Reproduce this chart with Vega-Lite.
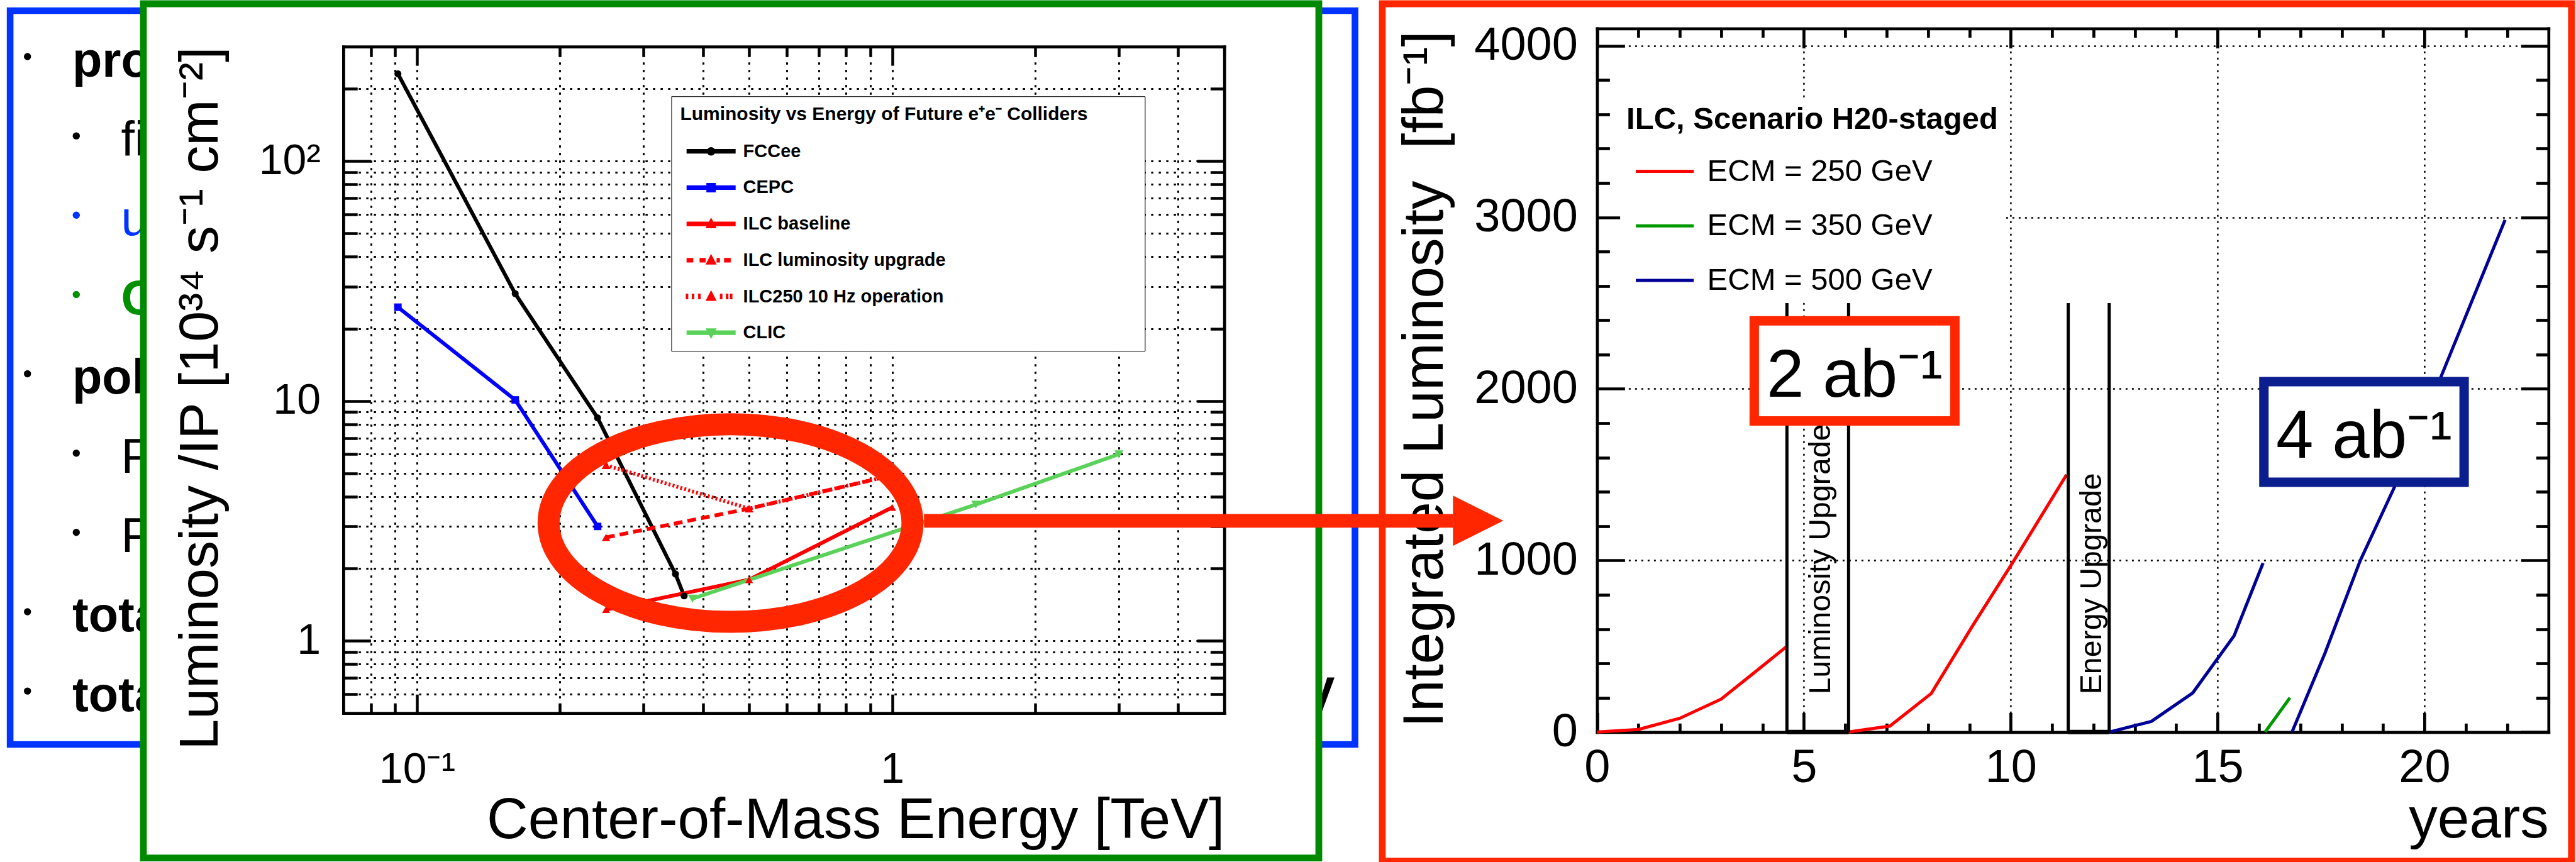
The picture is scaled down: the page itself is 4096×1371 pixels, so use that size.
{
  "$schema": "https://vega.github.io/schema/vega-lite/v6.json",
  "background": "white",
  "padding": {"left": 10.1, "top": 0, "right": 0, "bottom": 0},
  "bounds": "flush",
  "spacing": 100.9,
  "resolve": {
    "scale": {"color": "independent", "shape": "independent", "size": "independent", "stroke": "independent", "strokeDash": "independent"},
    "legend": {"color": "independent", "shape": "independent", "size": "independent", "stroke": "independent", "strokeDash": "independent"}
  },
  "config": {
    "font": "Liberation Sans",
    "view": {"stroke": null},
    "axis": {"labelFont": "Liberation Sans", "titleFont": "Liberation Sans", "labelColor": "#000000", "titleColor": "#000000", "tickColor": "#000000", "domainColor": "#000000", "gridColor": "#000000", "labelFlush": false, "labelOverlap": false, "titleFontWeight": "normal", "grid": false, "titleLimit": 3000},
    "legend": {"labelFont": "Liberation Sans", "titleFont": "Liberation Sans", "labelColor": "#000000", "titleColor": "#000000", "labelLimit": 3000, "titleLimit": 3000},
    "text": {"font": "Liberation Sans", "color": "#000000"}
  },
  "datasets": {
    "slide": [
      {"line": 1, "indent": 0, "text": "pro", "tone": "heading"},
      {"line": 2, "indent": 1, "text": "fi", "tone": "item"},
      {"line": 3, "indent": 1, "text": "u", "tone": "blue"},
      {"line": 4, "indent": 1, "text": "C", "tone": "green"},
      {"line": 5, "indent": 0, "text": "pol", "tone": "heading"},
      {"line": 6, "indent": 1, "text": "P", "tone": "item"},
      {"line": 7, "indent": 1, "text": "P", "tone": "item"},
      {"line": 8, "indent": 0, "text": "tota", "tone": "heading"},
      {"line": 9, "indent": 0, "text": "tota", "tone": "heading"}
    ],
    "lumi_energy": [
      {"series": "FCCee", "E": 0.0912, "L": 231},
      {"series": "FCCee", "E": 0.161, "L": 28},
      {"series": "FCCee", "E": 0.24, "L": 8.5},
      {"series": "FCCee", "E": 0.35, "L": 1.9},
      {"series": "FCCee", "E": 0.365, "L": 1.54},
      {"series": "CEPC", "E": 0.0912, "L": 24.6},
      {"series": "CEPC", "E": 0.161, "L": 10.1},
      {"series": "CEPC", "E": 0.24, "L": 3.0},
      {"series": "ILC baseline", "E": 0.25, "L": 1.35},
      {"series": "ILC baseline", "E": 0.5, "L": 1.8},
      {"series": "ILC baseline", "E": 1.0, "L": 3.6},
      {"series": "ILC luminosity upgrade", "E": 0.25, "L": 2.7},
      {"series": "ILC luminosity upgrade", "E": 0.5, "L": 3.56},
      {"series": "ILC luminosity upgrade", "E": 1.0, "L": 4.9},
      {"series": "ILC250 10 Hz operation", "E": 0.25, "L": 5.4},
      {"series": "ILC250 10 Hz operation", "E": 0.5, "L": 3.56},
      {"series": "ILC250 10 Hz operation", "E": 1.0, "L": 4.9},
      {"series": "CLIC", "E": 0.38, "L": 1.5},
      {"series": "CLIC", "E": 1.5, "L": 3.7},
      {"series": "CLIC", "E": 3.0, "L": 6.0}
    ],
    "integrated": [
      {"ecm": "ECM = 250 GeV", "run": "250a", "year": 0, "lumi": 0},
      {"ecm": "ECM = 250 GeV", "run": "250a", "year": 1, "lumi": 15},
      {"ecm": "ECM = 250 GeV", "run": "250a", "year": 2, "lumi": 80},
      {"ecm": "ECM = 250 GeV", "run": "250a", "year": 3, "lumi": 192},
      {"ecm": "ECM = 250 GeV", "run": "250a", "year": 4, "lumi": 385},
      {"ecm": "ECM = 250 GeV", "run": "250a", "year": 4.59, "lumi": 500},
      {"ecm": "ECM = 250 GeV", "run": "250b", "year": 6.08, "lumi": 0},
      {"ecm": "ECM = 250 GeV", "run": "250b", "year": 7.08, "lumi": 35},
      {"ecm": "ECM = 250 GeV", "run": "250b", "year": 8.08, "lumi": 225},
      {"ecm": "ECM = 250 GeV", "run": "250b", "year": 9.08, "lumi": 620},
      {"ecm": "ECM = 250 GeV", "run": "250b", "year": 10.08, "lumi": 1000},
      {"ecm": "ECM = 250 GeV", "run": "250b", "year": 11.35, "lumi": 1500},
      {"ecm": "ECM = 500 GeV", "run": "500a", "year": 12.38, "lumi": 0},
      {"ecm": "ECM = 500 GeV", "run": "500a", "year": 13.4, "lumi": 62},
      {"ecm": "ECM = 500 GeV", "run": "500a", "year": 14.4, "lumi": 228},
      {"ecm": "ECM = 500 GeV", "run": "500a", "year": 15.4, "lumi": 561},
      {"ecm": "ECM = 500 GeV", "run": "500a", "year": 16.1, "lumi": 985},
      {"ecm": "ECM = 350 GeV", "run": "350", "year": 16.15, "lumi": 0},
      {"ecm": "ECM = 350 GeV", "run": "350", "year": 16.75, "lumi": 200},
      {"ecm": "ECM = 500 GeV", "run": "500b", "year": 16.8, "lumi": 0},
      {"ecm": "ECM = 500 GeV", "run": "500b", "year": 17.6, "lumi": 462},
      {"ecm": "ECM = 500 GeV", "run": "500b", "year": 18.45, "lumi": 1000},
      {"ecm": "ECM = 500 GeV", "run": "500b", "year": 19.3, "lumi": 1440},
      {"ecm": "ECM = 500 GeV", "run": "500b", "year": 20.4, "lumi": 2070},
      {"ecm": "ECM = 500 GeV", "run": "500b", "year": 21.95, "lumi": 2985}
    ],
    "upgrades": [
      {"phase": "Luminosity Upgrade", "start": 4.59, "end": 6.08, "mid": 5.335},
      {"phase": "Energy Upgrade", "start": 11.39, "end": 12.38, "mid": 11.885}
    ],
    "ab_boxes": [
      {"label": "2 ab⁻¹", "tone": "250", "from": 3.8, "to": 8.65, "low": 1813, "high": 2397, "label_year": 6.225, "label_lumi": 1954},
      {"label": "4 ab⁻¹", "tone": "500", "from": 16.12, "to": 20.96, "low": 1456, "high": 2042, "label_year": 18.54, "label_lumi": 1599}
    ],
    "arrow": [
      {"from_year": -16.27, "to_year": -3.48, "head_year": -2.875, "lumi": 1231}
    ]
  },
  "hconcat": [
    {
      "width": 110.9,
      "height": 1358.6,
      "view": {"stroke": null, "fill": null},
      "layer": [
        {
          "data": {"values": [{"frame": "slide"}]},
          "mark": {"type": "rect", "fill": "transparent", "stroke": "#0033FF", "strokeWidth": 10.6},
          "encoding": {
            "x": {"datum": 0, "type": "quantitative", "scale": {"domain": [0, 1], "range": [0, 2138.4]}, "axis": null},
            "x2": {"datum": 1},
            "y": {"datum": 0, "type": "quantitative", "scale": {"domain": [0, 1], "range": [11.0, 1178.0]}, "axis": null},
            "y2": {"datum": 1}
          }
        },
        {
          "data": {"name": "slide"},
          "mark": {"type": "point", "shape": "circle", "filled": true, "opacity": 1, "size": 130, "strokeWidth": 0, "xOffset": -71.2, "yOffset": -31.5},
          "encoding": {
            "x": {"field": "indent", "type": "quantitative", "scale": {"domain": [0, 1], "range": [98.8, 176.4]}, "axis": null},
            "y": {"field": "line", "type": "quantitative", "scale": {"domain": [1, 9], "range": [115.5, 1124.6]}, "axis": null},
            "color": {"field": "tone", "type": "nominal", "scale": {"domain": ["heading", "item", "blue", "green"], "range": ["#000000", "#000000", "#0033FF", "#009000"]}, "legend": null}
          }
        },
        {
          "data": {"name": "slide"},
          "transform": [{"filter": "datum.tone === 'item' || datum.tone === 'blue'"}],
          "mark": {"type": "text", "fontSize": 77.6, "align": "left", "baseline": "alphabetic", "fontWeight": "normal"},
          "encoding": {
            "x": {"field": "indent", "type": "quantitative", "scale": {"domain": [0, 1], "range": [98.8, 176.4]}, "axis": null},
            "y": {"field": "line", "type": "quantitative", "scale": {"domain": [1, 9], "range": [115.5, 1124.6]}, "axis": null},
            "text": {"field": "text"},
            "color": {"field": "tone", "type": "nominal", "scale": {"domain": ["heading", "item", "blue", "green"], "range": ["#000000", "#000000", "#0033FF", "#009000"]}, "legend": null}
          }
        },
        {
          "data": {"name": "slide"},
          "transform": [{"filter": "datum.tone === 'heading' || datum.tone === 'green'"}],
          "mark": {"type": "text", "fontSize": 77.6, "align": "left", "baseline": "alphabetic", "fontWeight": "bold"},
          "encoding": {
            "x": {"field": "indent", "type": "quantitative", "scale": {"domain": [0, 1], "range": [98.8, 176.4]}, "axis": null},
            "y": {"field": "line", "type": "quantitative", "scale": {"domain": [1, 9], "range": [115.5, 1124.6]}, "axis": null},
            "text": {"field": "text"},
            "color": {"field": "tone", "type": "nominal", "scale": {"domain": ["heading", "item", "blue", "green"], "range": ["#000000", "#000000", "#0033FF", "#009000"]}, "legend": null}
          }
        },
        {
          "data": {"values": [{"line": 9, "text": "V"}]},
          "mark": {"type": "text", "fontSize": 77.6, "align": "right", "baseline": "alphabetic", "fontWeight": "bold", "dx": -32.1, "color": "#000000"},
          "encoding": {
            "x": {"datum": 1, "type": "quantitative", "scale": {"domain": [0, 1], "range": [0, 2138.4]}, "axis": null},
            "y": {"field": "line", "type": "quantitative", "scale": {"domain": [1, 9], "range": [115.5, 1124.6]}, "axis": null},
            "text": {"field": "text"}
          }
        }
      ],
      "resolve": {"scale": {"x": "independent", "y": "independent"}}
    },
    {
      "width": 1869.0,
      "height": 1358.6,
      "view": {"stroke": "#008A00", "strokeWidth": 10.8, "fill": "white"},
      "layer": [
        {
          "data": {"name": "lumi_energy"},
          "mark": {"type": "line", "strokeWidth": 6},
          "encoding": {
            "x": {"field": "E", "type": "quantitative", "scale": {"type": "log", "domain": [0.07, 5], "range": [317.9, 1718.7], "nice": false},
              "axis": {"orient": "bottom", "offset": -230.4, "values": [0.1, 1], "labelExpr": "datum.value == 1 ? '1' : '10⁻¹'", "ticks": false, "domain": false, "grid": false, "labelFontSize": 68, "labelPadding": 56, "title": "Center-of-Mass Energy [TeV]", "titleFontSize": 91, "titleX": 1718.7, "titleY": 198, "titleAlign": "right", "titleBaseline": "alphabetic", "titleAngle": 0}},
            "y": {"field": "L", "type": "quantitative", "scale": {"type": "log", "domain": [0.5, 300], "range": [1128.2, 68.1], "nice": false},
              "axis": {"orient": "left", "offset": -317.9, "values": [1, 10, 100], "labelExpr": "datum.value == 100 ? '10²' : datum.value == 10 ? '10' : '1'", "ticks": false, "domain": false, "grid": false, "labelFontSize": 68, "labelPadding": 36.4, "title": "Luminosity /IP [10³⁴ s⁻¹ cm⁻²]", "titleFontSize": 88, "titleX": -200.5, "titleY": 68.1, "titleAlign": "right", "titleBaseline": "alphabetic", "titleAngle": 270}},
            "color": {"field": "series", "type": "nominal", "scale": {"domain": ["FCCee", "CEPC", "ILC baseline", "ILC luminosity upgrade", "ILC250 10 Hz operation", "CLIC"], "range": ["#000000", "#0000FF", "#FF0000", "#FF0000", "#FF0000", "#5AD25A"]}, "legend": null},
            "strokeDash": {"field": "series", "type": "nominal", "scale": {"domain": ["FCCee", "CEPC", "ILC baseline", "ILC luminosity upgrade", "ILC250 10 Hz operation", "CLIC"], "range": [[1, 0], [1, 0], [1, 0], [14, 8], [3, 3.5], [1, 0]]}, "legend": null}
          }
        },
        {
          "data": {"name": "lumi_energy"},
          "mark": {"type": "point", "filled": true, "opacity": 1, "strokeWidth": 0},
          "encoding": {
            "x": {"field": "E", "type": "quantitative", "scale": {"type": "log", "domain": [0.07, 5], "range": [317.9, 1718.7], "nice": false},
              "axis": {"orient": "top", "offset": -1128.2, "values": [0.08, 0.09, 0.1, 0.2, 0.3, 0.4, 0.5, 0.6, 0.7, 0.8, 0.9, 1, 2, 3, 4], "labels": false, "ticks": true, "tickSize": {"condition": {"test": "datum.value == 0.1 || datum.value == 1", "value": 30}, "value": 16}, "tickWidth": 4.5, "domain": true, "domainWidth": 4.8, "domainCap": "square", "grid": true, "gridDash": [3.5, 8.5], "gridWidth": 3, "title": null}},
            "y": {"field": "L", "type": "quantitative", "scale": {"type": "log", "domain": [0.5, 300], "range": [1128.2, 68.1], "nice": false},
              "axis": {"orient": "right", "offset": -1551.1, "values": [0.6, 0.7, 0.8, 0.9, 1, 2, 3, 4, 5, 6, 7, 8, 9, 10, 20, 30, 40, 50, 60, 70, 80, 90, 100, 200], "labels": false, "ticks": true, "tickSize": {"condition": {"test": "datum.value == 1 || datum.value == 10 || datum.value == 100", "value": 43.5}, "value": 22.3}, "tickWidth": 4.5, "domain": true, "domainWidth": 4.8, "domainCap": "square", "grid": false, "title": null}},
            "color": {"field": "series", "type": "nominal", "scale": {"domain": ["FCCee", "CEPC", "ILC baseline", "ILC luminosity upgrade", "ILC250 10 Hz operation", "CLIC"], "range": ["#000000", "#0000FF", "#FF0000", "#FF0000", "#FF0000", "#5AD25A"]}, "legend": null},
            "shape": {"field": "series", "type": "nominal", "scale": {"domain": ["FCCee", "CEPC", "ILC baseline", "ILC luminosity upgrade", "ILC250 10 Hz operation", "CLIC"], "range": ["circle", "square", "triangle-up", "triangle-up", "triangle-up", "triangle-down"]}, "legend": null},
            "size": {"field": "series", "type": "nominal", "scale": {"domain": ["FCCee", "CEPC", "ILC baseline", "ILC luminosity upgrade", "ILC250 10 Hz operation", "CLIC"], "range": [125, 210, 230, 230, 230, 230]}, "legend": null}
          }
        },
        {
          "data": {"values": [{"highlight": "ILC"}]},
          "mark": {"type": "point", "shape": "M-1,0C-1,-0.3001,-0.5523,-0.5434,0,-0.5434C0.5523,-0.5434,1,-0.3001,1,0C1,0.3001,0.5523,0.5434,0,0.5434C-0.5523,0.5434,-1,0.3001,-1,0Z", "size": 334777, "filled": false, "stroke": "#FF2600", "strokeWidth": 35, "opacity": 1},
          "encoding": {
            "x": {"datum": 0.457, "type": "quantitative", "scale": {"type": "log", "domain": [0.07, 5], "range": [317.9, 1718.7], "nice": false},
              "axis": {"orient": "bottom", "offset": -1290.5, "values": [0.08, 0.09, 0.1, 0.2, 0.3, 0.4, 0.5, 0.6, 0.7, 0.8, 0.9, 1, 2, 3, 4], "labels": false, "ticks": true, "tickSize": {"condition": {"test": "datum.value == 0.1 || datum.value == 1", "value": 30}, "value": 16}, "tickWidth": 4.5, "domain": true, "domainWidth": 4.8, "domainCap": "square", "grid": false, "title": null}},
            "y": {"datum": 3.1, "type": "quantitative", "scale": {"type": "log", "domain": [0.5, 300], "range": [1128.2, 68.1], "nice": false},
              "axis": {"orient": "left", "offset": -1718.7, "values": [0.6, 0.7, 0.8, 0.9, 1, 2, 3, 4, 5, 6, 7, 8, 9, 10, 20, 30, 40, 50, 60, 70, 80, 90, 100, 200], "labels": false, "ticks": true, "tickSize": {"condition": {"test": "datum.value == 1 || datum.value == 10 || datum.value == 100", "value": 43.5}, "value": 22.3}, "tickWidth": 4.5, "domain": true, "domainWidth": 4.8, "domainCap": "square", "grid": true, "gridDash": [3.5, 8.5], "gridWidth": 3, "title": null}}
          }
        },
        {
          "data": {"name": "lumi_energy"},
          "transform": [{"filter": "false"}],
          "mark": {"type": "point", "filled": true, "opacity": 1, "strokeWidth": 0},
          "encoding": {
            "color": {"field": "series", "type": "nominal", "scale": {"domain": ["FCCee", "CEPC", "ILC baseline", "ILC luminosity upgrade", "ILC250 10 Hz operation", "CLIC"], "range": ["#000000", "#0000FF", "#FF0000", "#FF0000", "#FF0000", "#5AD25A"]},
              "legend": {"orient": "none", "legendX": 839.4, "legendY": 147.2, "title": "Luminosity vs Energy of Future e⁺e⁻ Colliders", "titleFontSize": 30, "titleFontWeight": "bold", "titlePadding": 29, "labelFontSize": 29, "labelFontWeight": "bold", "symbolSize": 400, "symbolStrokeWidth": 0, "symbolOffset": 34.8, "labelOffset": 36.4, "rowPadding": 27.7, "padding": 14, "strokeColor": "#000000", "fillColor": "white", "zindex": 1, "encode": {"legend": {"update": {"strokeWidth": {"value": 4.2}}}}}},
            "shape": {"field": "series", "type": "nominal", "scale": {"domain": ["FCCee", "CEPC", "ILC baseline", "ILC luminosity upgrade", "ILC250 10 Hz operation", "CLIC"], "range": [
              "M-3.9,-0.36H3.9V0.36H-3.9Z M0.67,0C0.67,0.37,0.37,0.67,0,0.67C-0.37,0.67,-0.67,0.37,-0.67,0C-0.67,-0.37,-0.37,-0.67,0,-0.67C0.37,-0.67,0.67,-0.37,0.67,0Z M67.5,0",
              "M-3.9,-0.36H3.9V0.36H-3.9Z M-0.75,-0.75H0.75V0.75H-0.75Z",
              "M-3.9,-0.36H3.9V0.36H-3.9Z M0,-1L0.88,0.7L-0.88,0.7Z",
              "M-3.9,-0.36H-2.84V0.36H-3.9Z M-1.83,-0.36H-0.87V0.36H-1.83Z M0.87,-0.36H1.4V0.36H0.87Z M2.06,-0.36H3.12V0.36H2.06Z M0,-1L0.88,0.7L-0.88,0.7Z",
              "M-4.03,-0.45H-3.63V0.45H-4.03Z M-3.07,-0.45H-2.67V0.45H-3.07Z M-2.06,-0.45H-1.66V0.45H-2.06Z M1.4,-0.45H1.8V0.45H1.4Z M2.35,-0.45H2.75V0.45H2.35Z M2.99,-0.45H3.39V0.45H2.99Z M0,-1L0.88,0.7L-0.88,0.7Z",
              "M-3.9,-0.36H3.9V0.36H-3.9Z M0,1L-0.88,-0.7L0.88,-0.7Z"
            ]},
              "legend": {"orient": "none", "legendX": 839.4, "legendY": 147.2, "title": "Luminosity vs Energy of Future e⁺e⁻ Colliders", "titleFontSize": 30, "titleFontWeight": "bold", "titlePadding": 29, "labelFontSize": 29, "labelFontWeight": "bold", "symbolSize": 400, "symbolStrokeWidth": 0, "symbolOffset": 34.8, "labelOffset": 36.4, "rowPadding": 27.7, "padding": 14, "strokeColor": "#000000", "fillColor": "white", "zindex": 1, "encode": {"legend": {"update": {"strokeWidth": {"value": 4.2}}}}}}
          }
        }
      ],
      "resolve": {
        "scale": {"color": "independent", "shape": "independent", "size": "independent", "strokeDash": "independent"},
        "axis": {"x": "independent", "y": "independent"},
        "legend": {"color": "independent", "shape": "independent", "size": "independent", "strokeDash": "independent"}
      }
    },
    {
      "width": 1890.9,
      "height": 1363.6,
      "view": {"stroke": "#FF2600", "strokeWidth": 10.8, "fill": "white"},
      "layer": [
        {
          "data": {"name": "integrated"},
          "mark": {"type": "line", "strokeWidth": 5},
          "encoding": {
            "x": {"field": "year", "type": "quantitative", "scale": {"domain": [0, 23], "range": [341.5, 1854.4], "nice": false, "zero": false},
              "axis": {"orient": "bottom", "offset": -205.3, "values": [0, 5, 10, 15, 20], "format": "d", "ticks": false, "domain": false, "grid": false, "labelFontSize": 74, "labelPadding": 21, "title": "years", "titleFontSize": 91, "titleX": 1854.4, "titleY": 167, "titleAlign": "right", "titleBaseline": "alphabetic", "titleAngle": 0}},
            "y": {"field": "lumi", "type": "quantitative", "scale": {"domain": [0, 4100], "range": [1158.3, 39.4], "nice": false, "zero": false},
              "axis": {"orient": "left", "offset": -341.5, "values": [0, 1000, 2000, 3000, 4000], "format": "d", "ticks": false, "domain": false, "grid": false, "labelFontSize": 74, "labelPadding": 31, "title": "Integrated Luminosity\u00a0 [fb⁻¹]", "titleFontSize": 91, "titleX": -245.8, "titleY": 42.6, "titleAlign": "right", "titleBaseline": "alphabetic", "titleAngle": 270}},
            "color": {"field": "ecm", "type": "nominal", "scale": {"domain": ["ECM = 250 GeV", "ECM = 350 GeV", "ECM = 500 GeV"], "range": ["#FF0000", "#009900", "#000099"]},
              "legend": {"orient": "none", "legendX": 378.2, "legendY": 149.5, "title": "ILC, Scenario H20-staged", "titleFontSize": 49, "titleFontWeight": "bold", "titlePadding": 32.5, "labelFontSize": 49, "symbolType": "M-2,0H2", "symbolSize": 2116, "symbolStrokeWidth": 5, "symbolOffset": 35.5, "labelOffset": 42, "rowPadding": 35.7, "padding": 10, "fillColor": "white", "zindex": 1}},
            "detail": {"field": "run"}
          }
        },
        {
          "data": {"name": "upgrades"},
          "mark": {"type": "rule", "strokeWidth": 5, "color": "#000000"},
          "encoding": {
            "x": {"field": "start", "type": "quantitative", "scale": {"domain": [0, 23], "range": [341.5, 1854.4], "nice": false, "zero": false}, "axis": null},
            "y": {"datum": 0, "type": "quantitative", "scale": {"domain": [0, 4100], "range": [1158.3, 39.4], "nice": false, "zero": false}, "axis": null},
            "y2": {"datum": 2500}
          }
        },
        {
          "data": {"name": "upgrades"},
          "mark": {"type": "rule", "strokeWidth": 5, "color": "#000000"},
          "encoding": {
            "x": {"field": "end", "type": "quantitative", "scale": {"domain": [0, 23], "range": [341.5, 1854.4], "nice": false, "zero": false}, "axis": null},
            "y": {"datum": 0, "type": "quantitative", "scale": {"domain": [0, 4100], "range": [1158.3, 39.4], "nice": false, "zero": false}, "axis": null},
            "y2": {"datum": 2500}
          }
        },
        {
          "data": {"name": "upgrades"},
          "mark": {"type": "rule", "strokeWidth": 7, "color": "#000000"},
          "encoding": {
            "x": {"field": "start", "type": "quantitative", "scale": {"domain": [0, 23], "range": [341.5, 1854.4], "nice": false, "zero": false}, "axis": null},
            "x2": {"field": "end"},
            "y": {"datum": 0, "type": "quantitative", "scale": {"domain": [0, 4100], "range": [1158.3, 39.4], "nice": false, "zero": false}, "axis": null}
          }
        },
        {
          "data": {"name": "upgrades"},
          "mark": {"type": "text", "angle": 270, "align": "left", "baseline": "alphabetic", "fontSize": 48.4, "xOffset": 19.5},
          "encoding": {
            "x": {"field": "mid", "type": "quantitative", "scale": {"domain": [0, 23], "range": [341.5, 1854.4], "nice": false, "zero": false}, "axis": null},
            "y": {"datum": 219, "type": "quantitative", "scale": {"domain": [0, 4100], "range": [1158.3, 39.4], "nice": false, "zero": false}, "axis": null},
            "text": {"field": "phase"}
          }
        },
        {
          "data": {"name": "ab_boxes"},
          "mark": {"type": "rect", "fill": "white", "strokeWidth": 15},
          "encoding": {
            "x": {"field": "from", "type": "quantitative", "scale": {"domain": [0, 23], "range": [341.5, 1854.4], "nice": false, "zero": false},
              "axis": {"orient": "top", "offset": -1158.3, "values": [0, 1, 2, 3, 4, 5, 6, 7, 8, 9, 10, 11, 12, 13, 14, 15, 16, 17, 18, 19, 20, 21, 22], "labels": false, "ticks": true, "tickSize": {"condition": {"test": "datum.value % 5 == 0", "value": 31}, "value": 14}, "tickWidth": 4.7, "domain": true, "domainWidth": 4.7, "domainCap": "square", "grid": true, "gridDash": [3, 7], "gridWidth": 2.5, "gridOpacity": {"condition": {"test": "datum.value % 5 == 0 && datum.value > 0", "value": 1}, "value": 0}, "title": null}},
            "x2": {"field": "to"},
            "y": {"field": "low", "type": "quantitative", "scale": {"domain": [0, 4100], "range": [1158.3, 39.4], "nice": false, "zero": false},
              "axis": {"orient": "right", "offset": -1549.4, "values": [0, 200, 400, 600, 800, 1000, 1200, 1400, 1600, 1800, 2000, 2200, 2400, 2600, 2800, 3000, 3200, 3400, 3600, 3800, 4000], "labels": false, "ticks": true, "tickSize": {"condition": {"test": "datum.value % 1000 == 0", "value": 44}, "value": 20}, "tickWidth": 4.7, "domain": true, "domainWidth": 4.7, "domainCap": "square", "grid": false, "title": null}},
            "y2": {"field": "high"},
            "stroke": {"field": "tone", "type": "nominal", "scale": {"domain": ["250", "500"], "range": ["#FF2600", "#0B1E8F"]}, "legend": null}
          }
        },
        {
          "data": {"name": "ab_boxes"},
          "mark": {"type": "text", "fontSize": 107, "align": "center", "baseline": "alphabetic"},
          "encoding": {
            "x": {"field": "label_year", "type": "quantitative", "scale": {"domain": [0, 23], "range": [341.5, 1854.4], "nice": false, "zero": false},
              "axis": {"orient": "bottom", "offset": -1324.2, "values": [0, 1, 2, 3, 4, 5, 6, 7, 8, 9, 10, 11, 12, 13, 14, 15, 16, 17, 18, 19, 20, 21, 22], "labels": false, "ticks": true, "tickSize": {"condition": {"test": "datum.value % 5 == 0", "value": 31}, "value": 14}, "tickWidth": 4.7, "domain": true, "domainWidth": 4.7, "domainCap": "square", "grid": false, "title": null}},
            "y": {"field": "label_lumi", "type": "quantitative", "scale": {"domain": [0, 4100], "range": [1158.3, 39.4], "nice": false, "zero": false},
              "axis": {"orient": "left", "offset": -1854.4, "values": [0, 200, 400, 600, 800, 1000, 1200, 1400, 1600, 1800, 2000, 2200, 2400, 2600, 2800, 3000, 3200, 3400, 3600, 3800, 4000], "labels": false, "ticks": true, "tickSize": {"condition": {"test": "datum.value % 1000 == 0", "value": 44}, "value": 20}, "tickWidth": 4.7, "domain": true, "domainWidth": 4.7, "domainCap": "square", "grid": true, "gridDash": [3, 7], "gridWidth": 2.5, "gridOpacity": {"condition": {"test": "datum.value % 1000 == 0 && datum.value > 0", "value": 1}, "value": 0}, "title": null}},
            "text": {"field": "label"}
          }
        },
        {
          "data": {"name": "arrow"},
          "mark": {"type": "rule", "strokeWidth": 21.7, "color": "#FF2600", "strokeCap": "butt"},
          "encoding": {
            "x": {"field": "from_year", "type": "quantitative", "scale": {"domain": [0, 23], "range": [341.5, 1854.4], "nice": false, "zero": false}, "axis": null},
            "x2": {"field": "to_year"},
            "y": {"field": "lumi", "type": "quantitative", "scale": {"domain": [0, 4100], "range": [1158.3, 39.4], "nice": false, "zero": false}, "axis": null}
          }
        },
        {
          "data": {"name": "arrow"},
          "mark": {"type": "point", "shape": "M-1,-1L1,0L-1,1Z", "size": 6400, "filled": true, "opacity": 1, "color": "#FF2600", "strokeWidth": 0},
          "encoding": {
            "x": {"field": "head_year", "type": "quantitative", "scale": {"domain": [0, 23], "range": [341.5, 1854.4], "nice": false, "zero": false}, "axis": null},
            "y": {"field": "lumi", "type": "quantitative", "scale": {"domain": [0, 4100], "range": [1158.3, 39.4], "nice": false, "zero": false}, "axis": null}
          }
        }
      ],
      "resolve": {"axis": {"x": "independent", "y": "independent"}}
    }
  ]
}
